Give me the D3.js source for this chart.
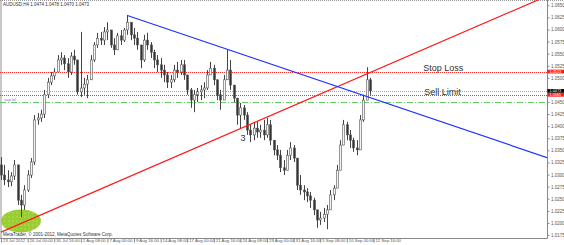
<!DOCTYPE html>
<html><head><meta charset="utf-8">
<script src="https://cdn.jsdelivr.net/npm/d3@7"></script>
<style>html,body{margin:0;padding:0;background:#fff;overflow:hidden}</style>
</head><body><svg id="c" width="564" height="245"></svg>
<script>
// ---------------- data ----------------
const symbolTitle = "AUDUSD,H4  1.0474 1.0478 1.0470 1.0473";
const copyright = "MetaTrader, © 2001-2012, MetaQuotes Software Corp.";
const timeLabels = ["23 Jul 2012","26 Jul 00:00","30 Jul 16:00","2 Aug 08:00","7 Aug 00:00","9 Aug 16:00","14 Aug 08:00","17 Aug 00:00","21 Aug 16:00","24 Aug 08:00","29 Aug 00:00","31 Aug 16:00","5 Sep 08:00","10 Sep 00:00","12 Sep 16:00"];
const barsPerLabel = 8;
const priceTicks = [1.0650,1.0625,1.0600,1.0575,1.0550,1.0525,1.0500,1.0475,1.0450,1.0425,1.0400,1.0375,1.0350,1.0325,1.0300,1.0275,1.0250,1.0225,1.0200,1.0175];
const firstOpen = 1.0320;
const highs = [1.0336,1.0320,1.0309,1.0305,1.0330,1.0320,1.0258,1.0278,1.0309,1.0334,
1.0423,1.0427,1.0434,1.0475,1.0500,1.0512,1.0520,1.0547,1.0553,1.0547,
1.0541,1.0553,1.0558,1.0537,1.0595,1.0500,1.0506,1.0547,1.0574,1.0593,
1.0595,1.0605,1.0615,1.0599,1.0582,1.0593,1.0599,1.0603,1.0630,1.0615,
1.0603,1.0595,1.0568,1.0589,1.0593,1.0574,1.0558,1.0547,1.0541,1.0527,
1.0512,1.0506,1.0527,1.0533,1.0537,1.0537,1.0506,1.0479,1.0475,1.0479,
1.0485,1.0491,1.0516,1.0533,1.0527,1.0496,1.0475,1.0506,1.0558,1.0537,
1.0485,1.0458,1.0448,1.0444,1.0429,1.0403,1.0409,1.0409,1.0403,1.0413,
1.0417,1.0413,1.0371,1.0361,1.0351,1.0330,1.0351,1.0367,1.0361,1.0309,
1.0299,1.0278,1.0272,1.0264,1.0252,1.0227,1.0223,1.0231,1.0237,1.0268,
1.0278,1.0320,1.0371,1.0413,1.0409,1.0392,1.0376,1.0371,1.0423,1.0465,
1.0522,1.0500];
const lows = [1.0289,1.0278,1.0274,1.0276,1.0289,1.0237,1.0212,1.0227,1.0264,1.0293,
1.0320,1.0403,1.0409,1.0417,1.0458,1.0485,1.0496,1.0512,1.0527,1.0516,
1.0500,1.0506,1.0527,1.0465,1.0460,1.0465,1.0458,1.0496,1.0533,1.0562,
1.0568,1.0568,1.0578,1.0562,1.0547,1.0558,1.0568,1.0574,1.0589,1.0578,
1.0568,1.0558,1.0520,1.0533,1.0558,1.0541,1.0520,1.0512,1.0500,1.0491,
1.0479,1.0479,1.0491,1.0500,1.0506,1.0496,1.0465,1.0438,1.0429,1.0450,
1.0454,1.0458,1.0475,1.0506,1.0485,1.0454,1.0434,1.0454,1.0500,1.0475,
1.0450,1.0403,1.0396,1.0413,1.0382,1.0367,1.0371,1.0376,1.0376,1.0371,
1.0376,1.0361,1.0340,1.0330,1.0305,1.0299,1.0309,1.0330,1.0326,1.0268,
1.0258,1.0247,1.0243,1.0231,1.0216,1.0190,1.0196,1.0202,1.0187,1.0227,
1.0247,1.0278,1.0309,1.0361,1.0371,1.0355,1.0347,1.0340,1.0351,1.0409,
1.0471,1.0465];
const closes = [1.0299,1.0289,1.0285,1.0297,1.0320,1.0247,1.0237,1.0268,1.0299,1.0326,
1.0413,1.0417,1.0425,1.0465,1.0491,1.0504,1.0512,1.0537,1.0541,1.0529,
1.0512,1.0545,1.0537,1.0471,1.0479,1.0487,1.0496,1.0537,1.0568,1.0582,
1.0578,1.0595,1.0599,1.0568,1.0558,1.0587,1.0578,1.0599,1.0615,1.0589,
1.0582,1.0568,1.0537,1.0578,1.0568,1.0553,1.0537,1.0527,1.0516,1.0506,
1.0491,1.0496,1.0516,1.0512,1.0527,1.0506,1.0475,1.0454,1.0465,1.0471,
1.0475,1.0479,1.0506,1.0520,1.0496,1.0465,1.0454,1.0496,1.0516,1.0485,
1.0458,1.0423,1.0438,1.0423,1.0392,1.0382,1.0396,1.0388,1.0392,1.0382,
1.0403,1.0371,1.0351,1.0340,1.0314,1.0309,1.0340,1.0355,1.0334,1.0278,
1.0268,1.0264,1.0256,1.0247,1.0227,1.0206,1.0210,1.0218,1.0227,1.0258,
1.0272,1.0309,1.0361,1.0403,1.0382,1.0371,1.0355,1.0351,1.0413,1.0454,
1.0496,1.0473];
const stopLoss = 1.0513, sellLimit = 1.0465, bidPrice = 1.0473, hLine = 1.0450;
const hLineName = "sup lvl";
const redTrend = [[0, 1.0181], [111, 1.0511]];
const blueTrend = [[38, 1.0629], [111, 1.0459]];
const circleAt = [6, 1.0204];
const waveLabel = {text: "3", bar: 72, price: 1.0376};
const stopText = {text: "Stop Loss", bar: 127, price: 1.0520};
const sellText = {text: "Sell Limit", bar: 127.3, price: 1.0470};

// ---------------- drawing ----------------
const W = 564, H = 245, plotR = 547, plotB = 238;
const FONT = "'Liberation Sans', Arial, sans-serif";
const svg = d3.select("#c");
const x = d3.scaleLinear().domain([0, 164.2]).range([1, plotR]);
const y = d3.scaleLinear().domain([1.0175, 1.0650]).range([235, 5.3]);

const defs = svg.append("defs");
defs.append("clipPath").attr("id", "pc").append("rect").attr("x", 0).attr("y", 0).attr("width", plotR).attr("height", plotB);
const pat = defs.append("pattern").attr("id", "dots").attr("width", 4).attr("height", 4).attr("patternUnits", "userSpaceOnUse");
pat.append("rect").attr("width", 4).attr("height", 4).attr("fill", "#9acd32");
pat.append("circle").attr("cx", 1).attr("cy", 1).attr("r", 0.45).attr("fill", "#ffffff");

svg.append("rect").attr("width", W).attr("height", H).attr("fill", "#fff");
svg.append("rect").attr("x", 0).attr("y", 0).attr("width", 2).attr("height", plotB).attr("fill", "#c8c8c8");
svg.append("line").attr("x1", 0).attr("x2", W).attr("y1", 0.5).attr("y2", 0.5).attr("stroke", "#999").attr("stroke-dasharray", "1,1");

const plot = svg.append("g").attr("clip-path", "url(#pc)");

plot.append("ellipse").attr("cx", x(circleAt[0])).attr("cy", y(circleAt[1])).attr("rx", 20).attr("ry", 11.5).attr("fill", "url(#dots)");

function hline(v, color, dash) {
  plot.append("line").attr("x1", 0).attr("x2", plotR).attr("y1", Math.round(y(v)) + 0.5).attr("y2", Math.round(y(v)) + 0.5)
    .attr("stroke", color).attr("stroke-width", 1).attr("stroke-dasharray", dash);
}
hline(stopLoss, "#ff3030", "1,1");
hline(bidPrice, "#aaaaaa", "1,1");
hline(sellLimit, "#ff3030", "1,1");
hline(hLine, "#66cc66", "6,2,1,2");
plot.append("text").attr("x", 4).attr("y", y(hLine) - 1.5).attr("font-family", FONT).attr("font-size", 4.2).attr("fill", "#6677aa").text(hLineName);

const bars = closes.map((c, i) => {
  const o = i === 0 ? firstOpen : closes[i - 1];
  return {i, o, c, h: Math.max(highs[i], o, c), l: Math.min(lows[i], o, c)};
});
const cg = plot.append("g");
cg.selectAll("line.w").data(bars).join("line").attr("class", "w")
  .attr("x1", d => Math.round(x(d.i)) + 0.5).attr("x2", d => Math.round(x(d.i)) + 0.5)
  .attr("y1", d => y(d.h)).attr("y2", d => y(d.l)).attr("stroke", "#444").attr("stroke-width", 1);
cg.selectAll("rect.b").data(bars).join("rect").attr("class", "b")
  .attr("x", d => Math.round(x(d.i)) - 0.5).attr("width", 2)
  .attr("y", d => y(Math.max(d.o, d.c))).attr("height", d => Math.max(1, Math.abs(y(d.o) - y(d.c))))
  .attr("fill", d => d.c >= d.o ? "#f4f4f4" : "#333").attr("stroke", "#555").attr("stroke-width", 0.6);

function trend(pts, color) {
  const [[i1, p1], [i2, p2]] = pts;
  const slope = (p2 - p1) / (i2 - i1);
  const iEnd = x.domain()[1];
  plot.append("line").attr("x1", x(i1)).attr("y1", y(p1)).attr("x2", x(iEnd)).attr("y2", y(p1 + slope * (iEnd - i1)))
    .attr("stroke", color).attr("stroke-width", 1.2);
}
trend(redTrend, "#ff1a1a");
trend(blueTrend, "#2030ff");

svg.append("text").attr("x", x(waveLabel.bar)).attr("y", y(waveLabel.price) + 3.5).attr("font-family", FONT).attr("font-size", 9).attr("fill", "#333").text(waveLabel.text);
svg.append("text").attr("x", x(stopText.bar)).attr("y", y(stopText.price) + 3).attr("font-family", FONT).attr("font-size", 9).attr("fill", "#333").text(stopText.text);
svg.append("text").attr("x", x(sellText.bar)).attr("y", y(sellText.price) + 3).attr("font-family", FONT).attr("font-size", 9).attr("fill", "#333").text(sellText.text);

svg.append("text").attr("x", 3).attr("y", 6).attr("font-family", FONT).attr("font-size", 4.5).attr("fill", "#333").text(symbolTitle);
svg.append("text").attr("x", 3).attr("y", 236).attr("font-family", FONT).attr("font-size", 4.5).attr("fill", "#333").text(copyright);

svg.append("line").attr("x1", plotR + 0.5).attr("x2", plotR + 0.5).attr("y1", 0).attr("y2", plotB + 0.5).attr("stroke", "#888");
svg.append("line").attr("x1", 0).attr("x2", plotR + 0.5).attr("y1", plotB + 0.5).attr("y2", plotB + 0.5).attr("stroke", "#888");

// y axis (right); labels hidden where a price box covers them
const boxes = [stopLoss, bidPrice, sellLimit];
const ya = svg.append("g").attr("transform", `translate(${plotR + 0.5},0)`)
  .call(d3.axisRight(y).tickValues(priceTicks).tickFormat(d3.format(".4f")).tickSize(2).tickPadding(1.5));
ya.select(".domain").remove();
ya.selectAll("line").attr("stroke", "#888");
ya.selectAll("text").attr("font-family", FONT).attr("font-size", 4.5).attr("fill", "#555");
ya.selectAll(".tick").filter(d => boxes.some(b => Math.abs(y(b) - y(d)) < 4.5)).select("text").remove();

const xa = svg.append("g").attr("transform", `translate(0,${plotB + 0.5})`)
  .call(d3.axisBottom(x).tickValues(timeLabels.map((_, k) => k * barsPerLabel)).tickFormat((d, k) => timeLabels[k]).tickSize(4).tickPadding(-3.2));
xa.select(".domain").remove();
xa.selectAll("line").attr("stroke", "#888");
xa.selectAll("text").attr("font-family", FONT).attr("font-size", 4.3).attr("fill", "#555").attr("text-anchor", "start").attr("dx", 1.5);

function priceBox(v, bg) {
  const g = svg.append("g").attr("transform", `translate(${plotR + 0.5},${y(v)})`);
  g.append("rect").attr("x", 0).attr("y", -1.9).attr("width", 17).attr("height", 3.8).attr("fill", bg);
  g.append("text").attr("x", 2).attr("y", 1.4).attr("font-family", FONT).attr("font-size", 3.8).attr("fill", "#fff").text(d3.format(".4f")(v));
}
priceBox(stopLoss, "#ff1a1a");
priceBox(bidPrice, "#000");
priceBox(sellLimit, "#ff1a1a");
</script></body></html>
